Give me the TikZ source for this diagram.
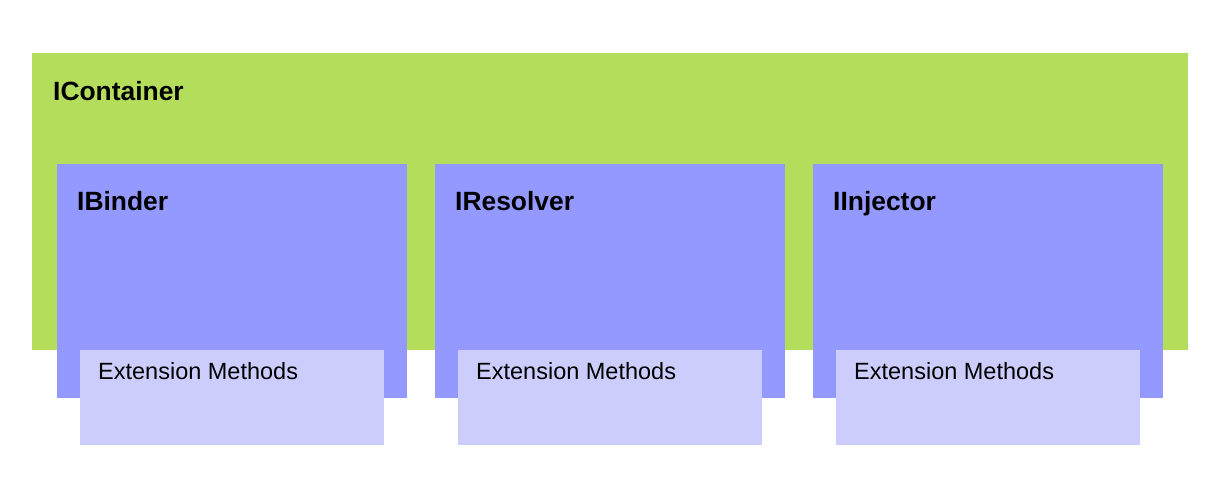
\documentclass[tikz,border=0pt]{standalone}
\usepackage{fontspec}
\setmainfont{Liberation Sans}
\definecolor{cgreen}{HTML}{B5DD5C}
\definecolor{cblue}{HTML}{9399FF}
\definecolor{clight}{HTML}{CDCDFD}
\begin{document}
\begin{tikzpicture}[x=1pt,y=-1pt,
  title/.style={anchor=base west,inner sep=0pt,font=\fontsize{26.4}{30}\selectfont\bfseries},
  ext/.style={anchor=base west,inner sep=0pt,font=\fontsize{23.5}{27}\selectfont}]
\useasboundingbox (0,0) rectangle (1219,494);
\fill[white] (0,0) rectangle (1219,494);
\fill[cgreen] (32,53) rectangle (1188,350);
\node[title] (container) at (53,101) {IContainer};
\foreach \n/\x/\t in {binder/57/IBinder,resolver/435/IResolver,injector/813/IInjector}{
  \fill[cblue] (\x,164) rectangle ++(350,234);
  \node[title] (\n) at (\x+20,211) {\t};
  \fill[clight] (\x+23,350) rectangle ++(304,95);
  \node[ext] (\n ext) at (\x+41,380) {Extension Methods};
}
\end{tikzpicture}
\end{document}
